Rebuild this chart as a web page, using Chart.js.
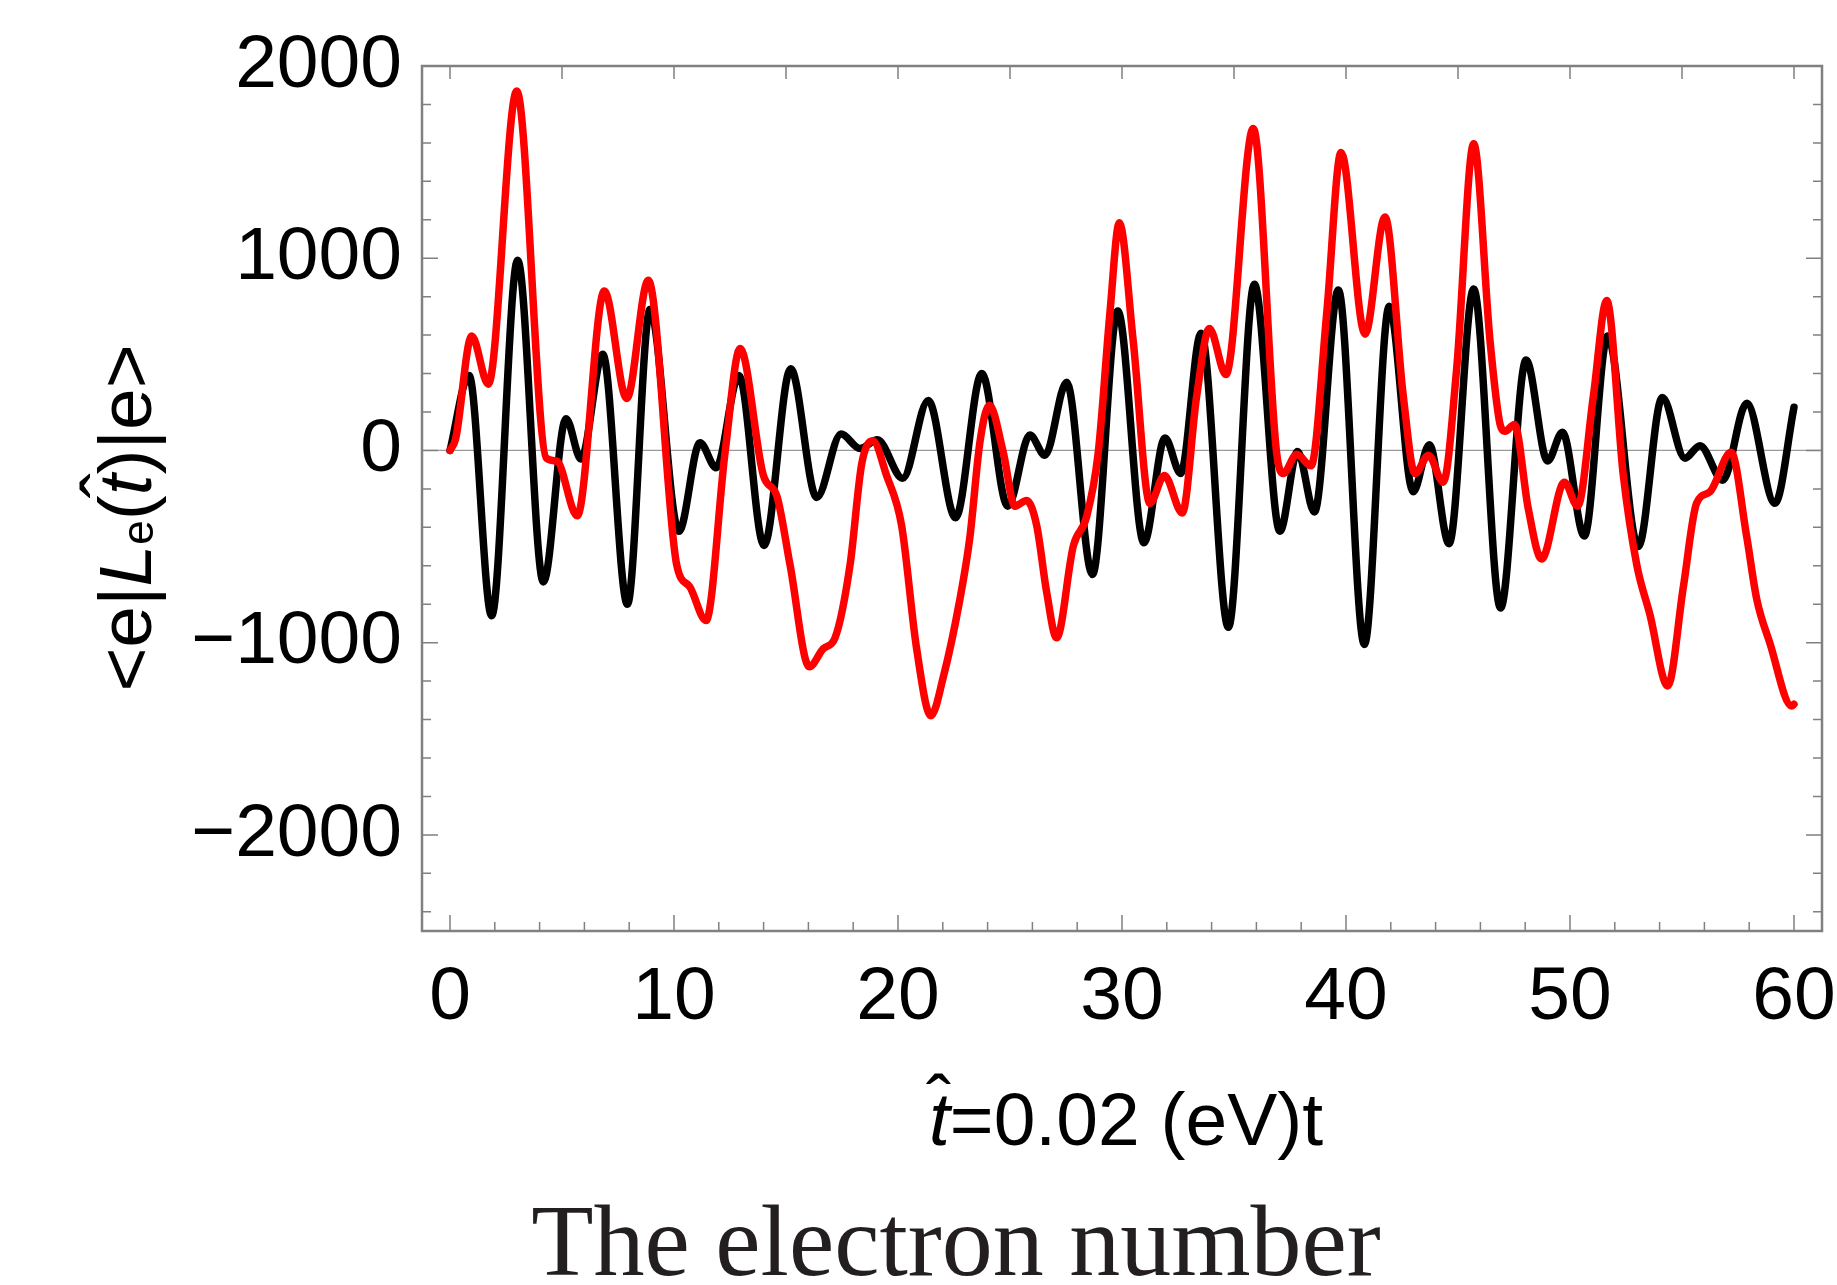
<!DOCTYPE html>
<html>
<head>
<meta charset="utf-8">
<title>The electron number</title>
<script src="https://cdn.jsdelivr.net/npm/chart.js@4.4.1/dist/chart.umd.min.js"></script>
<style>
  html, body { margin: 0; padding: 0; background: #fff; }
  canvas { display: block; }
</style>
</head>
<body>
<canvas id="chart" width="1837" height="1285"></canvas>
<script>
// black curve: t-hat vs <e|L_e|e>
const tBlack = [0, 0.85, 1.86, 3.02, 4.17, 5.18, 5.85, 6.82, 7.92, 8.93, 10.22, 11.16, 11.88, 12.9, 14.02,
  15.21, 16.37, 17.46, 18.3, 19.08, 20.21, 21.35, 22.57, 23.74, 24.9, 25.89, 26.56, 27.53, 28.68, 29.81,
  30.98, 31.92, 32.62, 33.53, 34.75, 35.91, 37.05, 37.84, 38.59, 39.66, 40.82, 41.93, 43.0, 43.72, 44.6,
  45.7, 46.9, 48.04, 49.0, 49.66, 50.64, 51.68, 53.05, 54.12, 55.13, 55.8, 56.82, 57.89, 59.15, 60];
const lBlack = [0, 390, -860, 990, -685, 165, -45, 500, -800, 735, -420, 40, -90, 390, -495,
  425, -245, 85, 10, 55, -145, 260, -350, 400, -290, 80, -25, 355, -645, 725,
  -480, 65, -120, 610, -920, 865, -420, -5, -320, 835, -1010, 750, -215, 30, -485,
  840, -820, 470, -55, 95, -445, 595, -500, 275, -40, 25, -155, 245, -275, 225];

// red curve
const tRed = [0, 0.25, 0.97, 1.71, 2.98, 4.3, 4.76, 5.68, 6.89, 7.89, 8.85, 10.12, 10.71, 11.43, 12.28,
  12.95, 13.99, 14.6, 15.18, 16.04, 16.67, 17.19, 17.86, 18.38, 18.87, 19.49, 20.16, 20.83, 21.47, 22.02,
  22.77, 23.21, 23.66, 24.08, 24.7, 25.22, 25.74, 26.19, 26.64, 27.08, 27.83, 28.42, 28.94, 29.46, 29.88,
  30.5, 31.25, 31.89, 32.69, 33.33, 33.9, 34.64, 35.86, 36.9, 37.2, 37.8, 38.44, 39.14, 39.78, 40.85,
  41.74, 42.56, 43.08, 43.68, 44.34, 44.94, 45.7, 46.43, 46.88, 47.1, 47.52, 48.14, 48.73, 49.75, 50.34,
  51.04, 51.64, 52.38, 52.98, 53.57, 54.36, 55.06, 55.65, 56.25, 57.19, 57.89, 58.33, 58.93, 59.9, 60];
const lRed = [0, 60, 595, 345, 1870, -40, -55, -340, 830, 270, 885, -595, -710, -885, -10,
  530, -130, -240, -595, -1125, -1030, -975, -595, -70, 50, -130, -390, -1030, -1380, -1180,
  -770, -450, 45, 235, -10, -290, -260, -390, -740, -975, -495, -345, -10, 715, 1185,
  570, -275, -130, -325, 280, 635, 395, 1675, -10, -120, -20, -80, 715, 1550, 605,
  1215, 280, -120, -25, -165, 425, 1595, 570, 135, 100, 135, -305, -565, -165, -290,
  280, 780, -130, -595, -855, -1225, -710, -275, -215, -10, -450, -770, -1005, -1330, -1320];

const xTicks = [0, 10, 20, 30, 40, 50, 60];
const yTicks = [-2000, -1000, 0, 1000, 2000];

const SANS = '"Liberation Sans", Arial, sans-serif';
const FRAME = '#808080';
const FS = 75;

function toPoints(xs, ys) {
  return xs.map((x, i) => ({ x: x, y: ys[i] }));
}

function fmt(v) {
  return v < 0 ? '\u2212' + Math.abs(v) : String(v);
}

function runsWidth(ctx, runs) {
  let w = 0;
  runs.forEach(r => { ctx.font = r.font; w += ctx.measureText(r.text).width; });
  return w;
}

// draws text pieces one after another on a baseline, puts a hat over runs flagged with hat
function drawRuns(ctx, runs, x, y) {
  runs.forEach(r => {
    ctx.font = r.font;
    ctx.textAlign = 'left';
    ctx.fillText(r.text, x, y + (r.dy || 0));
    const w = ctx.measureText(r.text).width;
    if (r.hat) {
      ctx.font = FS + 'px ' + SANS;
      ctx.textAlign = 'center';
      ctx.fillText('\u02C6', x + 0.13 * FS, y - 0.23 * FS);
    }
    x += w;
  });
}

// keep tick labels from pushing the plot area around
function noPad(s) {
  s.paddingLeft = 0; s.paddingRight = 0; s.paddingTop = 0; s.paddingBottom = 0;
}

const reg = FS + 'px ' + SANS;
const ita = 'italic ' + FS + 'px ' + SANS;

const frameDecor = {
  id: 'frameDecor',
  beforeDatasetsDraw(chart) {
    const { ctx, chartArea: a, scales: { y } } = chart;
    const y0 = y.getPixelForValue(0);
    ctx.save();
    ctx.strokeStyle = '#9a9a9a';
    ctx.lineWidth = 1.2;
    ctx.beginPath();
    ctx.moveTo(a.left, y0);
    ctx.lineTo(a.right, y0);
    ctx.stroke();
    ctx.restore();
  },
  afterDatasetsDraw(chart) {
    const { ctx, chartArea: a, scales: { x, y } } = chart;
    ctx.save();
    ctx.strokeStyle = FRAME;
    ctx.lineWidth = 1.5;
    ctx.beginPath();
    for (let v = -2400; v <= 2000; v += 200) {
      const py = y.getPixelForValue(v);
      const len = v % 1000 === 0 ? 16 : 9;
      ctx.moveTo(a.left, py); ctx.lineTo(a.left + len, py);
      ctx.moveTo(a.right, py); ctx.lineTo(a.right - len, py);
    }
    for (let v = 0; v <= 60; v += 2) {
      const px = x.getPixelForValue(v);
      const len = v % 10 === 0 ? 16 : 9;
      ctx.moveTo(px, a.bottom); ctx.lineTo(px, a.bottom - len);
    }
    for (let v = 0; v <= 60; v += 5) {
      const px = x.getPixelForValue(v);
      ctx.moveTo(px, a.top); ctx.lineTo(px, a.top + 13);
    }
    ctx.stroke();
    ctx.lineWidth = 2.5;
    ctx.strokeRect(a.left, a.top, a.right - a.left, a.bottom - a.top);
    ctx.restore();
  },
  afterDraw(chart) {
    const ctx = chart.ctx;
    const a = chart.chartArea;
    ctx.save();
    ctx.fillStyle = '#000';
    ctx.textBaseline = 'alphabetic';

    // x axis title
    const xRuns = [
      { text: 't', font: ita, hat: true },
      { text: '=0.02 (eV)t', font: reg }
    ];
    const xw = runsWidth(ctx, xRuns);
    drawRuns(ctx, xRuns, (a.left + a.right) / 2 + 4 - xw / 2, 1145);

    // y axis title, rotated
    const yRuns = [
      { text: '<e|', font: reg },
      { text: 'L', font: ita },
      { text: 'e', font: Math.round(FS * 0.58) + 'px ' + SANS, dy: 2 },
      { text: '(', font: reg },
      { text: 't', font: ita, hat: true },
      { text: ')|e>', font: reg }
    ];
    const yw = runsWidth(ctx, yRuns);
    ctx.save();
    ctx.translate(151, 518);
    ctx.rotate(-Math.PI / 2);
    drawRuns(ctx, yRuns, -yw / 2, 0);
    ctx.restore();

    // caption under the plot
    ctx.font = '102px "Liberation Serif", "Times New Roman", serif';
    ctx.fillStyle = '#231f20';
    ctx.textAlign = 'center';
    ctx.fillText('The electron number', 956, 1275);
    ctx.restore();
  }
};

new Chart(document.getElementById('chart'), {
  type: 'line',
  data: {
    datasets: [
      {
        label: 'red',
        data: toPoints(tRed, lRed),
        borderColor: '#ff0000',
        borderWidth: 7.5,
        pointRadius: 0,
        cubicInterpolationMode: 'monotone',
        borderCapStyle: 'round',
        borderJoinStyle: 'round',
        fill: false
      },
      {
        label: 'black',
        data: toPoints(tBlack, lBlack),
        borderColor: '#000000',
        borderWidth: 7.5,
        pointRadius: 0,
        cubicInterpolationMode: 'monotone',
        borderCapStyle: 'round',
        borderJoinStyle: 'round',
        fill: false
      }
    ]
  },
  options: {
    responsive: false,
    animation: false,
    layout: { padding: { top: 66, right: 15, left: 0, bottom: 0 } },
    plugins: {
      legend: { display: false },
      tooltip: { enabled: false },
      title: { display: false }
    },
    scales: {
      x: {
        type: 'linear',
        min: -1.25,
        max: 61.25,
        afterBuildTicks: s => { s.ticks = xTicks.map(v => ({ value: v })); },
        afterFit: s => { s.height = 354; noPad(s); },
        grid: { display: false },
        border: { display: false },
        ticks: {
          autoSkip: false,
          maxRotation: 0,
          padding: 14,
          color: '#000',
          font: { family: SANS, size: FS },
          callback: v => fmt(v)
        }
      },
      y: {
        type: 'linear',
        min: -2500,
        max: 2000,
        afterBuildTicks: s => { s.ticks = yTicks.map(v => ({ value: v })); },
        afterFit: s => { s.width = 422; noPad(s); },
        grid: { display: false },
        border: { display: false },
        ticks: {
          padding: 12,
          color: '#000',
          font: { family: SANS, size: FS },
          callback: v => fmt(v)
        }
      }
    }
  },
  plugins: [frameDecor]
});
</script>
</body>
</html>
